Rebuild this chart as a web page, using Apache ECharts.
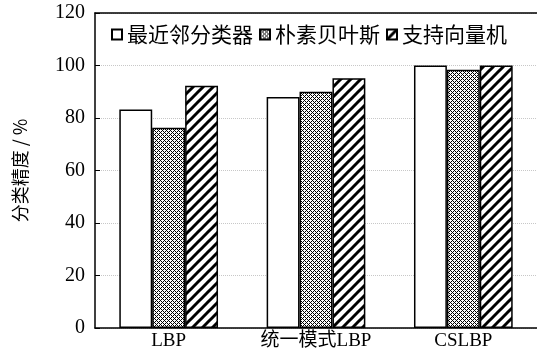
<!DOCTYPE html>
<html>
<head>
<meta charset="utf-8">
<script src="https://cdn.jsdelivr.net/npm/echarts@6/dist/echarts.min.js"></script>
<style>
  html, body { margin: 0; padding: 0; background: #fff; }
  #barChart { width: 537px; height: 351px; }
</style>
</head>
<body>
<div id="barChart"></div>
<script>
// 数据
const categories = ['LBP', '统一模式LBP', 'CSLBP'];
const seriesNames = ['最近邻分类器', '朴素贝叶斯', '支持向量机'];
const knnValues = [83.2, 88.0, 100];
const bayesValues = [76.3, 90.0, 98.4];
const svmValues = [92.3, 95.1, 100];
const yTicks = [0, 20, 40, 60, 80, 100, 120];

// 填充图案：网格点和斜线
function crossPattern() {
  const c = document.createElement('canvas');
  c.width = 4; c.height = 4;
  const ctx = c.getContext('2d');
  ctx.fillStyle = '#fff';
  ctx.fillRect(0, 0, 4, 4);
  ctx.fillStyle = '#000';
  for (let x = 0; x < 4; x++) {
    for (let y = 0; y < 4; y++) {
      if ((x + y) % 4 === 0 || (x - y + 4) % 4 === 0) ctx.fillRect(x, y, 1, 1);
    }
  }
  return c;
}
function stripePattern() {
  const s = 10;
  const c = document.createElement('canvas');
  c.width = s; c.height = s;
  const ctx = c.getContext('2d');
  ctx.fillStyle = '#fff';
  ctx.fillRect(0, 0, s, s);
  ctx.strokeStyle = '#000';
  ctx.lineWidth = 3;
  [[-s, s, s, -s], [0, s, s, 0], [0, 2 * s, 2 * s, 0]].forEach(l => {
    ctx.beginPath();
    ctx.moveTo(l[0], l[1]);
    ctx.lineTo(l[2], l[3]);
    ctx.stroke();
  });
  return c;
}

const serifFont = '"Liberation Serif", "Noto Sans CJK SC", serif';
const cjkFont = '"Noto Sans CJK SC", sans-serif';

const chart = echarts.init(document.getElementById('barChart'));
const barStyle = (color) => ({ color: color, borderColor: '#000', borderWidth: 1.5 });

const option = {
  animation: false,
  grid: { left: 95, right: 0, top: 13, bottom: 22 },
  legend: {
    left: 106,
    top: 19,
    itemWidth: 10,
    itemHeight: 10,
    itemGap: 6,
    icon: 'rect',
    textStyle: { fontFamily: cjkFont, fontSize: 21, color: '#000' },
    data: seriesNames
  },
  xAxis: [
    {
      type: 'category',
      data: categories,
      axisLine: { lineStyle: { color: '#000', width: 1.5 } },
      axisTick: { inside: true, length: 5, lineStyle: { color: '#000' } },
      axisLabel: { fontFamily: serifFont, fontSize: 19, color: '#000', margin: 4 }
    },
    {
      type: 'category',
      position: 'top',
      data: categories,
      axisLine: { lineStyle: { color: '#000', width: 1.5 } },
      axisTick: { show: false },
      axisLabel: { show: false }
    }
  ],
  yAxis: {
    type: 'value',
    min: 0,
    max: yTicks[yTicks.length - 1],
    interval: 20,
    name: '分类精度 / %',
    nameLocation: 'middle',
    nameGap: 66,
    nameRotate: 90,
    nameTextStyle: { fontFamily: cjkFont, fontSize: 18, color: '#000' },
    axisLine: { show: true, lineStyle: { color: '#000', width: 1.5 } },
    axisTick: { show: true, inside: true, length: 5, lineStyle: { color: '#000' } },
    axisLabel: { fontFamily: serifFont, fontSize: 20, color: '#000', margin: 10 },
    splitLine: { show: true, lineStyle: { color: '#c8c8c8', type: 'dotted', width: 1 } }
  },
  series: [
    {
      name: seriesNames[0],
      type: 'bar',
      barGap: '0%',
      barCategoryGap: '33%',
      itemStyle: barStyle('#fff'),
      data: knnValues
    },
    {
      name: seriesNames[1],
      type: 'bar',
      barGap: '0%',
      barCategoryGap: '33%',
      itemStyle: barStyle({ image: crossPattern(), repeat: 'repeat' }),
      data: bayesValues
    },
    {
      name: seriesNames[2],
      type: 'bar',
      barGap: '0%',
      barCategoryGap: '33%',
      itemStyle: barStyle({ image: stripePattern(), repeat: 'repeat' }),
      data: svmValues
    }
  ]
};
chart.setOption(option);
</script>
</body>
</html>
